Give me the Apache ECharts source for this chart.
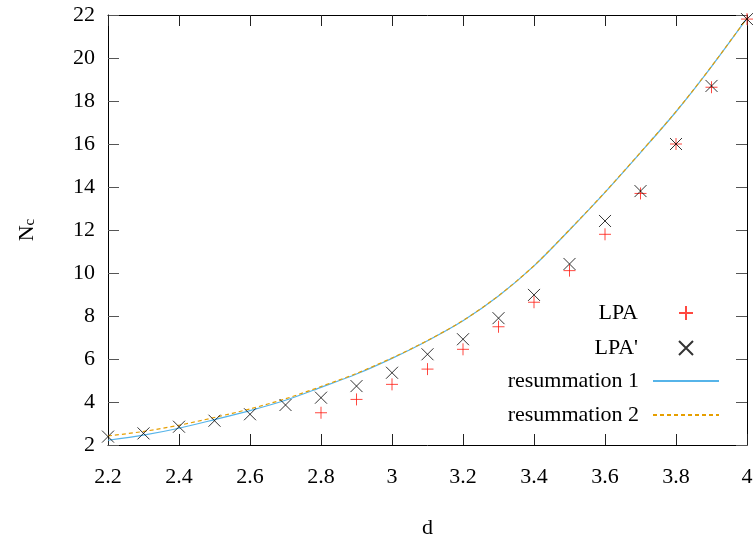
<!DOCTYPE html>
<html>
<head>
<meta charset="utf-8">
<script src="https://cdn.jsdelivr.net/npm/echarts@6/dist/echarts.min.js"></script>
<style>
html,body{margin:0;padding:0;background:#fff;}
#chart{width:753px;height:538px;}
</style>
</head>
<body>
<div id="chart"></div>
<script>
// ---- data ----
var dAll = [2.2, 2.3, 2.4, 2.5, 2.6, 2.7, 2.8, 2.9, 3.0, 3.1, 3.2, 3.3, 3.4, 3.5, 3.6, 3.7, 3.8, 3.9, 4.0];
var lpaPrime = [2.39, 2.54, 2.85, 3.13, 3.43, 3.86, 4.2, 4.74, 5.36, 6.22, 6.92, 7.9, 8.98, 10.42, 12.42, 13.81, 16.0, 18.7, 21.81];
var dLpa = [2.8, 2.9, 3.0, 3.1, 3.2, 3.3, 3.4, 3.5, 3.6, 3.7, 3.8, 3.9, 4.0];
var lpa = [3.5, 4.12, 4.82, 5.53, 6.45, 7.5, 8.64, 10.11, 11.8, 13.7, 16.0, 18.64, 21.81];
var resum1 = [2.22, 2.46, 2.78, 3.18, 3.6, 4.08, 4.68, 5.3, 6.03, 6.85, 7.78, 8.93, 10.33, 12.0, 13.75, 15.6, 17.5, 19.6, 21.85];
var resum2 = [2.42, 2.63, 2.92, 3.28, 3.68, 4.15, 4.72, 5.33, 6.05, 6.86, 7.79, 8.94, 10.34, 12.01, 13.76, 15.61, 17.51, 19.61, 21.86];
var xTicks = [2.2, 2.4, 2.6, 2.8, 3.0, 3.2, 3.4, 3.6, 3.8, 4.0];
var yTicks = [2, 4, 6, 8, 10, 12, 14, 16, 18, 20, 22];
var seriesNames = ['LPA', "LPA'", 'resummation 1', 'resummation 2'];

function pairs(xs, ys) { return xs.map(function (x, i) { return [x, ys[i]]; }); }

var FONT = 'Liberation Serif';
var plusPath = 'path://M0,5L10,5M5,0L5,10';
var crossPath = 'path://M0,0L10,10M10,0L0,10';

var chart = echarts.init(document.getElementById('chart'), null, {renderer: 'canvas'});

function xAxisCfg(pos, showLabels) {
  return {
    type: 'value', position: pos, min: xTicks[0], max: xTicks[xTicks.length - 1], interval: 0.2,
    axisLine: {show: true, onZero: false, lineStyle: {color: '#000', width: 1}},
    axisTick: {show: true, inside: true, length: 11, lineStyle: {color: '#222'}},
    axisLabel: {show: showLabels, margin: 21, color: '#000', fontFamily: FONT, fontSize: 22,
      formatter: function (v) { return String(Math.round(v * 10) / 10); }},
    splitLine: {show: false},
    name: showLabels ? 'd' : '', nameLocation: 'middle', nameGap: 72,
    nameTextStyle: {color: '#000', fontFamily: FONT, fontSize: 22}
  };
}
function yAxisCfg(pos, showLabels) {
  return {
    type: 'value', position: pos, min: yTicks[0], max: yTicks[yTicks.length - 1], interval: 2,
    axisLine: {show: true, onZero: false, lineStyle: {color: '#000', width: 1}},
    axisTick: {show: true, inside: true, length: 11, lineStyle: {color: '#555'}},
    axisLabel: {show: showLabels, margin: 13, color: '#000', fontFamily: FONT, fontSize: 22},
    splitLine: {show: false},
    name: showLabels ? '{n|N}{s|c}' : '', nameLocation: 'middle', nameGap: 70, nameRotate: 90,
    nameTextStyle: {color: '#000', fontFamily: FONT, fontSize: 22,
      rich: {
        n: {fontFamily: FONT, fontSize: 22, lineHeight: 28, verticalAlign: 'bottom', color: '#000'},
        s: {fontFamily: FONT, fontSize: 15, lineHeight: 14, verticalAlign: 'bottom', color: '#000'}
      }}
  };
}

var legendTops = [302, 337, 370, 404];
var legends = seriesNames.map(function (nm, i) {
  var isScatter = i < 2;
  return {
    data: [nm], right: isScatter ? 59 : 33, top: legendTops[i], orient: 'horizontal', align: 'right',
    padding: 0, itemWidth: isScatter ? 14 : 66, itemHeight: 14, selectedMode: false,
    itemStyle: isScatter ? {} : {opacity: 0},
    textStyle: {fontFamily: FONT, fontSize: 22, color: '#000', lineHeight: 22,
      padding: [0, isScatter ? 36 : 9, 0, 0]}
  };
});

var option = {
  backgroundColor: '#fff',
  animation: false,
  grid: {left: 108, right: 6, top: 15, bottom: 93, containLabel: false, outerBoundsMode: 'none'},
  xAxis: [xAxisCfg('bottom', true), xAxisCfg('top', false)],
  yAxis: [yAxisCfg('left', true), yAxisCfg('right', false)],
  legend: legends,
  series: [
    {
      name: seriesNames[0], type: 'scatter', data: pairs(dLpa, lpa),
      symbol: plusPath, symbolSize: 12,
      itemStyle: {color: '#ff1a10', borderColor: '#ff1a10', borderWidth: 1}, z: 3
    },
    {
      name: seriesNames[1], type: 'scatter', data: pairs(dAll, lpaPrime),
      symbol: crossPath, symbolSize: 12,
      itemStyle: {color: '#000', borderColor: '#000', borderWidth: 1}, z: 3
    },
    {
      name: seriesNames[2], type: 'line', data: pairs(dAll, resum1),
      smooth: 0.3, symbol: 'none', showSymbol: false,
      lineStyle: {color: '#56b4e9', width: 1.2}, itemStyle: {color: '#56b4e9'}, z: 2
    },
    {
      name: seriesNames[3], type: 'line', data: pairs(dAll, resum2),
      smooth: 0.3, symbol: 'none', showSymbol: false,
      lineStyle: {color: '#e69f00', width: 1.2, type: [4, 3]}, itemStyle: {color: '#e69f00'}, z: 2
    }
  ]
};
chart.setOption(option);
</script>
</body>
</html>
